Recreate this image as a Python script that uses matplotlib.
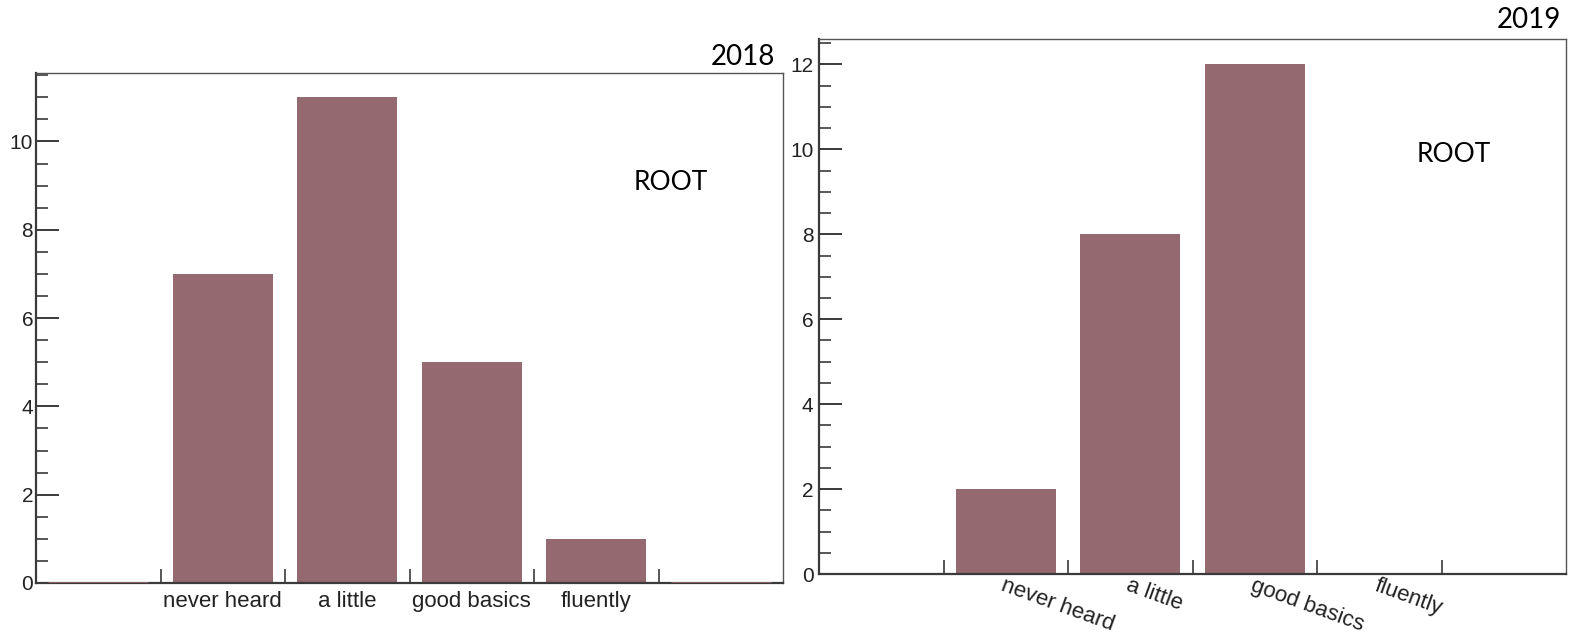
import matplotlib
matplotlib.use("Agg")
import matplotlib.pyplot as plt
from matplotlib.ticker import MultipleLocator

# --- Data (one empty bin on each side, as in the ROOT histograms) ---
bin_labels = ["", "never heard", "a little", "good basics", "fluently", ""]
counts_2018 = [0, 7, 11, 5, 1, 0]
counts_2019 = [0, 2, 8, 12, 0, 0]
years = ["2018", "2019"]

BAR_COLOR = "#94696f"
TICK_FONT = "Liberation Sans"
TITLE_FONT = "Lato"

fig = plt.figure(figsize=(15.78, 6.4), dpi=100)
ax_l = fig.add_axes([36 / 1578, 1 - 583 / 640, 747 / 1578, 510 / 640])
ax_r = fig.add_axes([819 / 1578, 1 - 574 / 640, 747 / 1578, 535 / 640])


def draw_panel(ax, counts, zero_lines, rotate, label_pad):
    centers = list(range(len(counts)))
    ax.bar(centers, counts, width=0.8, color=BAR_COLOR, linewidth=0)
    if zero_lines:
        for c, v in zip(centers, counts):
            if v == 0:
                ax.hlines(0, c - 0.4, c + 0.4, color=BAR_COLOR, lw=2, zorder=3)

    ax.set_xlim(-0.5, len(counts) - 0.5)
    ax.set_ylim(0, max(counts) * 1.05)

    # frame
    for side in ["left", "bottom"]:
        ax.spines[side].set_linewidth(1.6)
        ax.spines[side].set_color("#3a3a3a")
    for side in ["top", "right"]:
        ax.spines[side].set_linewidth(1.0)
        ax.spines[side].set_color("#555555")

    # y axis
    ax.yaxis.set_major_locator(MultipleLocator(2))
    ax.yaxis.set_minor_locator(MultipleLocator(0.5))
    ax.tick_params(axis="y", which="major", direction="in", length=16.5,
                   width=1.4, color="#3a3a3a", labelsize=15, pad=label_pad,
                   labelcolor="#222222")
    ax.tick_params(axis="y", which="minor", direction="in", length=8.5,
                   width=1.2, color="#3a3a3a")

    # x axis: ticks on bin edges, labels on bin centers
    ax.set_xticks([c + 0.5 for c in centers[:-1]])
    ax.tick_params(axis="x", which="major", direction="in", length=10,
                   width=1.2, color="#3a3a3a", labelbottom=False)
    ax.set_xticks(centers, bin_labels, minor=True)
    if rotate:
        ax.tick_params(axis="x", which="minor", length=0, pad=1,
                       labelsize=16, labelcolor="#222222")
        for t in ax.get_xticklabels(minor=True):
            t.set_rotation(-20)
            t.set_ha("left")
            t.set_va("top")
            t.set_rotation_mode("anchor")
    else:
        ax.tick_params(axis="x", which="minor", length=0, pad=6,
                       labelsize=16, labelcolor="#222222")

    for t in ax.get_xticklabels(minor=True) + ax.get_yticklabels():
        t.set_fontfamily(TICK_FONT)

    ax.text(0.85, 0.785, "ROOT", transform=ax.transAxes, ha="center",
            va="center", fontsize=19, family=TITLE_FONT, color="black")


draw_panel(ax_l, counts_2018, zero_lines=True, rotate=False, label_pad=2)
draw_panel(ax_r, counts_2019, zero_lines=False, rotate=True, label_pad=4)

fig.text(775 / 1578, 1 - 65 / 640, years[0], ha="right", va="baseline",
         fontsize=20, family=TITLE_FONT)
fig.text(1561 / 1578, 1 - 28 / 640, years[1], ha="right", va="baseline",
         fontsize=20, family=TITLE_FONT)

fig.savefig("out.png", dpi=100, facecolor="white")
